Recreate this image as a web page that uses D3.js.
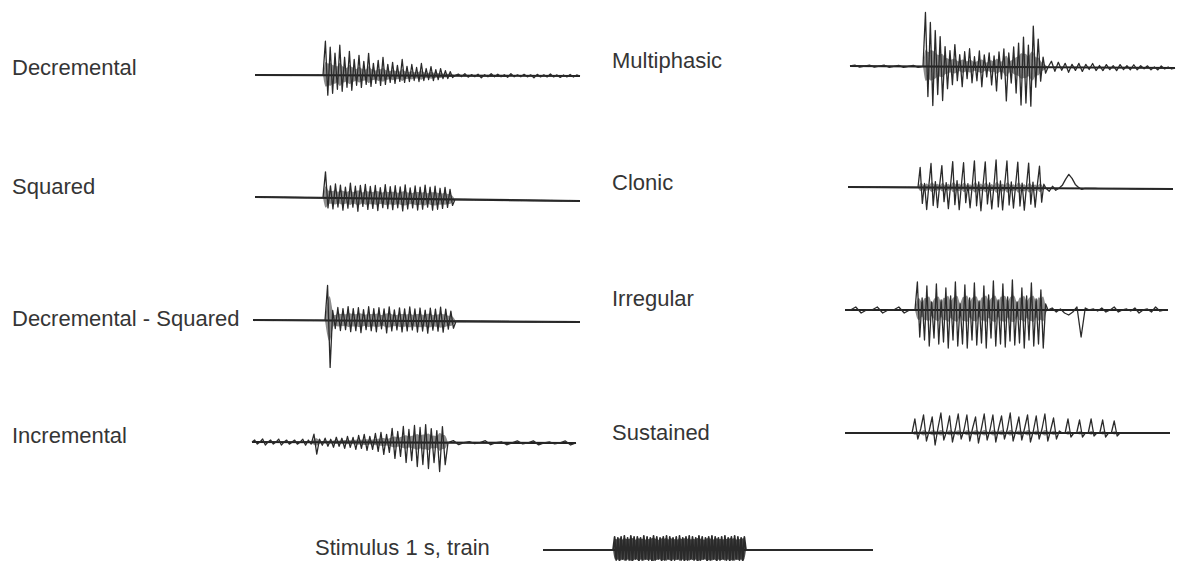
<!DOCTYPE html>
<html>
<head>
<meta charset="utf-8">
<script src="https://cdn.jsdelivr.net/npm/d3@7"></script>
<style>
  body { margin: 0; background: #fff; }
  svg { display: block; }
  .lbl { font-family: "Liberation Sans", Arial, sans-serif; font-size: 22px; fill: #353535; }
</style>
</head>
<body>
<svg id="chart" width="1177" height="561"></svg>
<script>

// trace labels
const labels = ['Decremental', 'Squared', 'Decremental - Squared', 'Incremental',
                'Multiphasic', 'Clonic', 'Irregular', 'Sustained', 'Stimulus 1 s, train'];

// signal amplitudes (positive = up)
const flat = [0, 0];

const decBurst = [0, 34, -20, 28, -18, 22, -14, 30, -16, 18, -12, 24, -15, 16, -10, 20, -12, 14, -9, 22, -11, 12, -8, 15, -10, 18, -9, 11, -7, 13, -8, 10, -6, 16, -7, 9, -6, 11, -5, 8, -6, 12, -5, 7, -4, 9, -5, 6, -4, 7, -3, 5, -3, 4, -2, 0];
const decTail = [0, 1.5, -1, 2, -1.5, 1, -1, 1.5, -2, 1, -1, 2, -1, 1.5, -1, 1, -1.5, 2, -1, 1, -1, 1.5, -1, 1, -2, 1.5, -1, 1, -1, 2, -1, 1, -1.5, 1, -1, 1.5, -1, 1, 0];

const sqBurst = [0, 26, -10, 12, -11, 14, -9, 13, -12, 11, -10, 15, -9, 12, -13, 13, -8, 14, -11, 12, -10, 13, -12, 11, -9, 14, -10, 12, -11, 13, -9, 12, -12, 14, -10, 11, -9, 13, -11, 12, -10, 14, -8, 12, -11, 13, -10, 11, -9, 12, -8, 10, -6, 0];

const dsqBurst = [0, 35, -47, 10, -8, 13, -10, 12, -9, 14, -11, 12, -10, 13, -12, 11, -9, 14, -10, 12, -11, 13, -8, 12, -12, 14, -10, 11, -9, 13, -11, 12, -10, 14, -9, 12, -11, 13, -10, 11, -12, 13, -9, 12, -10, 14, -11, 12, -8, 10, -7, 0];

const incPre = [0, 2, -2, 0, 3, -3, 0, 2, -2, 0, 3, -3, 0, 2, -2, 0, 2, -2, 0];
const incBurst = [0, 3, -3, 2, -2, 8, -12, 3, -3, 4, -4, 3, -5, 5, -4, 4, -6, 6, -5, 5, -7, 7, -6, 8, -8, 6, -7, 9, -9, 10, -12, 8, -10, 14, -16, 11, -14, 16, -20, 13, -18, 17, -24, 15, -22, 18, -26, 14, -20, 12, -29, 16, -22, 0];
const incPost = [0, 2, -2, 0, 1, -1, 0, 2, -2, 0, 1, -2, 0, 2, -1, 0, 2, -2, 0, 1, -1, 0, 2, -2, 0];

const mulPre = [0, 1, -1, 0, 1, -1, 0, 1, -1, 0, 1, -1, 0, 1, -1, 0];
const mulBurst = [0, 54, -30, 44, -39, 36, -28, 30, -34, 20, -22, 16, -18, 22, -14, 12, -20, 15, -12, 18, -16, 10, -14, 16, -20, 12, -10, 14, -18, 11, -24, 15, -12, 18, -34, 14, -16, 20, -26, 24, -38, 30, -36, 22, -39, 41, -20, 28, -14, 10, -6, 0];
const mulPost = [0, 6, -4, 5, -3, 4, -5, 3, -3, 4, -4, 3, -2, 4, -3, 2, -3, 3, -2, 2, -3, 3, -2, 2, -2, 3, -2, 2, -1, 2, -2, 1, -2, 2, -1, 1, -1, 0];

const cloBurst = [0, 20, -16, 4, -22, 2, 24, -18, 6, -20, 3, 22, -14, 5, -21, 2, 26, -17, 7, -22, 3, 25, -15, 4, -20, 2, 27, -18, 6, -23, 3, 26, -16, 5, -21, 2, 28, -19, 7, -22, 4, 27, -17, 6, -20, 3, 26, -18, 5, -22, 2, 25, -16, 6, -19, 3, 22, -14, 4, 0];
const cloPost = [0, -3, 2, -2, 0, 3, 9, 14, 10, 4, 1, -1, 0, 0, 0, 0, 0, 0, 0, 0, 0, 0, 0, 0, 0, 0, 0, 0, 0, 0, 0, 0, 0, 0, 0, 0, 0, 0, 0, 0];

const irrPre = [0, 0, 3, -3, 0, 0, 3, -3, 0, 0, 3, -3, 0, 0];
const irrBurst = [0, 28, -27, 12, -30, 24, -36, 8, -28, 26, -34, 10, -32, 22, -38, 14, -30, 28, -36, 6, -34, 25, -38, 12, -30, 27, -35, 9, -33, 24, -38, 15, -28, 29, -36, 10, -34, 26, -37, 13, -31, 30, -35, 8, -33, 22, -38, 14, -30, 27, -36, 11, -34, 20, -38, 6, 0];
const irrPost = [0, 2, -2, 1, -3, -5, -2, 3, -27, 2, 0, 1, -1, 2, -2, 0, 3, -2, 0, 1, -1, 2, -3, 0, 1, -2, 3, -1, 0, 0];

const susBurst = [0, 14, -6, 4, 18, -8, 3, 16, -12, 5, 20, -7, 2, 17, -9, 4, 19, -6, 3, 18, -8, 5, 16, -10, 4, 19, -7, 3, 18, -9, 5, 17, -6, 4, 20, -8, 3, 16, -7, 5, 18, -9, 2, 17, -6, 4, 19, -8, 3, 15, -6, 2, 0, 0, 14, -4, 0, 0, 13, -4, 0, 0, 14, -3, 0, 0, 13, -4, 0, 0, 12, -3, 0];

const stimBurst = [0, 13, -10, 12, -11, 13, -9, 14, -10, 12, -10, 14, -11, 13, -9, 13, -11, 12, -10, 14, -9, 13, -10, 12, -11, 14, -10, 13, -9, 12, -11, 13, -10, 14, -9, 13, -11, 12, -10, 13, -9, 14, -10, 12, -11, 13, -10, 14, -9, 13, -10, 12, -11, 14, -10, 13, -9, 12, -11, 13, -10, 14, -9, 13, -11, 12, -10, 13, -9, 14, -10, 12, -11, 13, -10, 14, -9, 13, -10, 12, -11, 13, 0];

// page layout: label spot, trace span, burst span, baseline and its drift, dark core share
const layout = [
  {lx: 12,  ly: 75,  x0: 255, x1: 580,  bs: 323, be: 455,  base: 75,  tilt: 1, core: 0.5,  pre: flat,   burst: decBurst,  post: decTail},
  {lx: 12,  ly: 194, x0: 255, x1: 580,  bs: 323, be: 455,  base: 197, tilt: 4, core: 0.6,  pre: flat,   burst: sqBurst,   post: flat},
  {lx: 12,  ly: 326, x0: 253, x1: 580,  bs: 325, be: 456,  base: 320, tilt: 2, core: 0.6,  pre: flat,   burst: dsqBurst,  post: flat},
  {lx: 12,  ly: 443, x0: 252, x1: 576,  bs: 300, be: 448,  base: 442, tilt: 1, core: 0.4,  pre: incPre, burst: incBurst,  post: incPost},
  {lx: 612, ly: 68,  x0: 850, x1: 1175, bs: 923, be: 1048, base: 66,  tilt: 2, core: 0.4,  pre: mulPre, burst: mulBurst,  post: mulPost},
  {lx: 612, ly: 190, x0: 848, x1: 1173, bs: 918, be: 1046, base: 187, tilt: 2, core: 0.25, pre: flat,   burst: cloBurst,  post: cloPost},
  {lx: 612, ly: 306, x0: 845, x1: 1168, bs: 915, be: 1048, base: 310, tilt: 0, core: 0.45, pre: irrPre, burst: irrBurst,  post: irrPost},
  {lx: 612, ly: 440, x0: 845, x1: 1170, bs: 912, be: 1120, base: 433, tilt: 0, core: 0.2,  pre: flat,   burst: susBurst,  post: flat},
  {lx: 315, ly: 555, x0: 543, x1: 873,  bs: 613, be: 746,  base: 550, tilt: 0, core: 1.0,  pre: flat,   burst: stimBurst, post: flat}
];

const svg = d3.select('#chart');

const defs = svg.append('defs');
defs.append('filter').attr('id', 'scan')
    .append('feGaussianBlur').attr('stdDeviation', 0.45);

const amp = d3.scaleLinear().domain([-50, 50]).range([50, -50]);

function segment(values, xa, xb) {
    var xs = d3.scaleLinear().domain([0, values.length - 1]).range([xa, xb]);
    return values.map(function(v, i) { return [xs(i), v]; });
}

var traces = svg.append('g').attr('filter', 'url(#scan)');

for (var i = 0; i < layout.length; i++) {
    var t = layout[i];
    var baseY = d3.scaleLinear().domain([t.x0, t.x1]).range([t.base, t.base + t.tilt]);

    svg.append('text')
        .attr('class', 'lbl')
        .attr('x', t.lx)
        .attr('y', t.ly)
        .text(labels[i]);

    var burstPts = segment(t.burst, t.bs, t.be);
    var pts = segment(t.pre, t.x0, t.bs)
        .concat(burstPts)
        .concat(segment(t.post, t.be, t.x1));

    var line = d3.line()
        .x(function(d) { return d[0]; })
        .y(function(d) { return baseY(d[0]) + amp(d[1]); });

    // dark core of the burst, from the same amplitudes
    var core = t.core;
    var band = d3.area()
        .curve(d3.curveBasis)
        .x(function(d) { return d[0]; })
        .y0(function(d) { return baseY(d[0]) + amp(-Math.abs(d[1]) * core * 0.85); })
        .y1(function(d) { return baseY(d[0]) + amp(Math.abs(d[1]) * core); });

    traces.append('path')
        .datum(burstPts)
        .attr('d', band)
        .attr('fill', '#2e2e2e')
        .attr('fill-opacity', i === 8 ? 0.85 : 0.55);

    // thick baseline under the signal
    traces.append('line')
        .attr('x1', t.x0).attr('x2', t.x1)
        .attr('y1', baseY(t.x0)).attr('y2', baseY(t.x1))
        .attr('stroke', '#222')
        .attr('stroke-width', 2.2);

    traces.append('path')
        .datum(pts)
        .attr('d', line)
        .attr('fill', 'none')
        .attr('stroke', '#2b2b2b')
        .attr('stroke-width', i === 8 ? 1.8 : 1.3)
        .attr('stroke-linejoin', 'round');
}
</script>
</body>
</html>
